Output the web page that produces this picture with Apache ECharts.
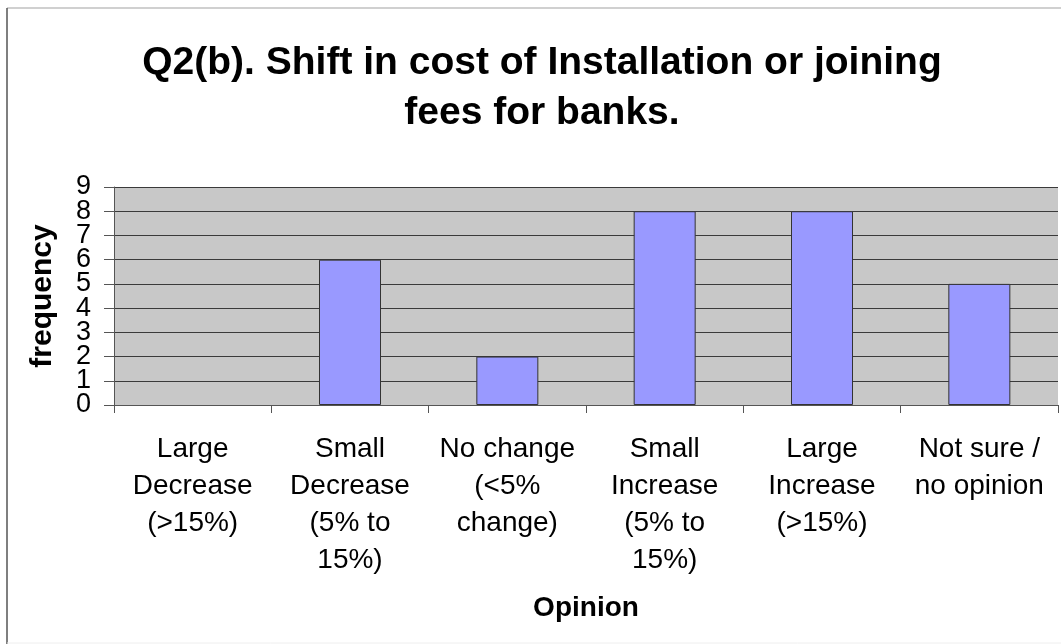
<!DOCTYPE html>
<html>
<head>
<meta charset="utf-8">
<script src="https://cdn.jsdelivr.net/npm/echarts@6/dist/echarts.min.js"></script>
<style>
  html, body { margin: 0; padding: 0; background: #ffffff; }
  #chart { width: 1061px; height: 644px; }
</style>
</head>
<body>
<div id="chart"></div>
<script>
// Survey answers: shift in installation / joining fees for banks
const categories = [
  'Large\nDecrease\n(>15%)',
  'Small\nDecrease\n(5% to\n15%)',
  'No change\n(<5%\nchange)',
  'Small\nIncrease\n(5% to\n15%)',
  'Large\nIncrease\n(>15%)',
  'Not sure /\nno opinion'
];
const frequency = [0, 6, 2, 8, 8, 5];
const yTicks = [0, 1, 2, 3, 4, 5, 6, 7, 8, 9];

const FONT = '"Liberation Sans", Arial, sans-serif';

// zero counts get no outline so nothing shows on the baseline
const barData = frequency.map(v => (v === 0 ? { value: v, itemStyle: { borderWidth: 0 } } : v));

const chart = echarts.init(document.getElementById('chart'), null, { renderer: 'canvas' });

chart.setOption({
  backgroundColor: '#ffffff',
  animation: false,
  title: {
    text: 'Q2(b). Shift in cost of Installation or joining\nfees for banks.',
    left: 537,
    top: 33,
    textAlign: 'center',
    textStyle: {
      fontFamily: FONT,
      fontWeight: 'bold',
      fontSize: 39,
      lineHeight: 50,
      color: '#000000'
    }
  },
  grid: {
    left: 114,
    right: 3,
    top: 187,
    bottom: 239,
    show: true,
    backgroundColor: '#c8c8c8',
    borderWidth: 0
  },
  xAxis: {
    type: 'category',
    data: categories,
    name: 'Opinion',
    nameLocation: 'middle',
    nameGap: 189,
    nameTextStyle: {
      fontFamily: FONT,
      fontWeight: 'bold',
      fontSize: 28,
      color: '#000000'
    },
    axisLine: { show: true, lineStyle: { color: '#555555', width: 1 } },
    axisTick: { show: true, alignWithLabel: false, length: 8, lineStyle: { color: '#555555' } },
    axisLabel: {
      interval: 0,
      margin: 26,
      fontFamily: FONT,
      fontSize: 28,
      lineHeight: 37,
      color: '#000000'
    },
    splitLine: { show: false }
  },
  yAxis: {
    type: 'value',
    min: yTicks[0],
    max: yTicks[yTicks.length - 1],
    interval: 1,
    name: 'frequency',
    nameLocation: 'middle',
    nameGap: 56,
    nameMoveOverlap: false,
    nameTextStyle: {
      fontFamily: FONT,
      fontWeight: 'bold',
      fontSize: 30,
      color: '#000000'
    },
    axisLine: { show: true, lineStyle: { color: '#555555', width: 1 } },
    axisTick: { show: true, length: 10, lineStyle: { color: '#555555' } },
    // the tightly packed tick numbers are drawn by the custom series below
    axisLabel: { show: false },
    splitLine: { show: true, lineStyle: { color: '#3a3a3a', width: 1 } }
  },
  series: [
    {
      type: 'bar',
      data: barData,
      barWidth: 62,
      itemStyle: {
        color: '#9999ff',
        borderColor: '#333333',
        borderWidth: 1
      }
    },
    {
      // value-axis tick numbers, placed left of the axis line at each tick
      type: 'custom',
      data: yTicks.map(v => [0, v]),
      silent: true,
      clip: false,
      z: 5,
      renderItem: function (params, api) {
        const pt = api.coord([0, api.value(1)]);
        const halfBand = api.size([1, 0])[0] / 2;
        return {
          type: 'text',
          x: pt[0] - halfBand - 23,
          y: pt[1],
          style: {
            text: String(api.value(1)),
            fontFamily: FONT,
            fontSize: 27,
            fill: '#000000',
            align: 'right',
            verticalAlign: 'middle'
          }
        };
      }
    }
  ],
  graphic: [
    { type: 'line', shape: { x1: 7, y1: 8, x2: 1061, y2: 8 }, style: { stroke: '#d0d0d0', lineWidth: 2 } },
    { type: 'line', shape: { x1: 7, y1: 8, x2: 7, y2: 644 }, style: { stroke: '#555555', lineWidth: 1.5 } },
    { type: 'line', shape: { x1: 7, y1: 643, x2: 1061, y2: 643 }, style: { stroke: '#eeeeee', lineWidth: 1 } }
  ]
});
</script>
</body>
</html>
